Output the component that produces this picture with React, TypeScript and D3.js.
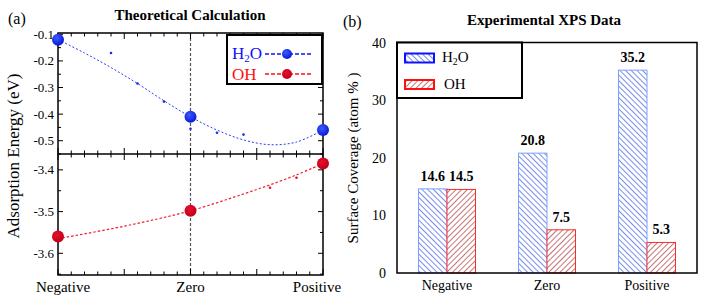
import * as d3 from 'd3';

const categories = ['Negative', 'Zero', 'Positive'];

// theoretical (a)
const h2oPoints = [-0.12, -0.41, -0.46];
const h2oSmallX = [0.4, 0.6, 0.8, 1.0, 1.2, 1.4];
const h2oSmallY = [-0.17, -0.285, -0.353, -0.455, -0.47, -0.477];
const h2oFitX = [0, 0.2, 0.4, 0.6, 0.8, 1.0, 1.2, 1.4, 1.6, 1.8, 2.0];
const h2oFitY = [-0.12, -0.17, -0.225, -0.285, -0.35, -0.41, -0.46, -0.497, -0.515, -0.505, -0.46];
const ohPoints = [-3.56, -3.498, -3.385];
const ohFitX = [0, 0.5, 1, 1.5, 1.6, 1.8, 2];
const ohFitY = [-3.565, -3.535, -3.498, -3.447, -3.436, -3.412, -3.385];
const ohSmallX = [1.6, 1.8];
const ohSmallY = [-3.443, -3.419];
const topTicks = [-0.1, -0.2, -0.3, -0.4, -0.5];
const bottomTicks = [-3.4, -3.5, -3.6];

// experimental (b)
const series = ['H2O', 'OH'];
const xpsH2O = [14.6, 20.8, 35.2];
const xpsOH = [14.5, 7.5, 5.3];
const xpsTicks = [0, 10, 20, 30, 40];

const serif = "'Liberation Serif', 'Times New Roman', 'DejaVu Serif', serif";

const x = d3.scaleLinear().domain([0, 2]).range([58, 323]);
const yTop = d3.scaleLinear().domain([-0.55, -0.095]).range([154, 33]);
const yBot = d3.scaleLinear().domain([-3.652, -3.362]).range([275, 154]);

const xb = d3.scaleBand().domain(categories).range([397, 697]).paddingInner(0.43).paddingOuter(0.215);
const xs = d3.scaleBand().domain(series).range([0, xb.bandwidth()]);
const yb = d3.scaleLinear().domain([0, 40]).range([273, 42.5]);

const H2OLabel = ({ x: tx, y: ty, size, fill }: { x: number; y: number; size: number; fill: string }) => (
  <text x={tx} y={ty} fontSize={size} fill={fill}>
    H<tspan fontSize={size * 0.65} dy={size * 0.2}>2</tspan>
    <tspan dy={-size * 0.2}>O</tspan>
  </text>
);

function LeftPanel() {
  const fitTop = d3
    .line<number>()
    .x((_, i) => x(h2oFitX[i]))
    .y((d) => yTop(d))
    .curve(d3.curveCatmullRom)(h2oFitY);
  const fitBot = d3
    .line<number>()
    .x((_, i) => x(ohFitX[i]))
    .y((d) => yBot(d))
    .curve(d3.curveCatmullRom)(ohFitY);
  const minor = d3.range(0, 2.001, 0.1);
  const [l, r] = x.range();
  const topMinor = d3.range(-0.1, -0.56, -0.05);
  const botMinor = d3.range(-3.4, -3.66, -0.05);
  return (
    <g>
      <text x={8} y={24} fontSize={16}>(a)</text>
      <text x={190} y={20} fontSize={15} fontWeight="bold" textAnchor="middle">Theoretical Calculation</text>
      <text transform="translate(19,156) rotate(-90)" fontSize={17} textAnchor="middle">Adsorption Energy (eV)</text>

      {/* zero line */}
      <line x1={x(1)} x2={x(1)} y1={33} y2={275} stroke="#555" strokeWidth={1.2} strokeDasharray="3,2" />

      {/* x ticks */}
      {minor.map((v, i) => {
        const major = i % 5 === 0;
        const len = major ? 6 : 3.5;
        return (
          <g key={i} stroke="#000" strokeWidth={1}>
            <line x1={x(v)} x2={x(v)} y1={33} y2={33 + len} />
            <line x1={x(v)} x2={x(v)} y1={154 - len} y2={154 + len} />
            <line x1={x(v)} x2={x(v)} y1={275} y2={275 - len} />
          </g>
        );
      })}
      {/* y ticks */}
      {topMinor.map((v, i) => {
        const len = i % 2 === 0 ? 5 : 3;
        return (
          <g key={'t' + i} stroke="#000">
            <line x1={l} x2={l + len} y1={yTop(v)} y2={yTop(v)} />
            <line x1={r} x2={r - len} y1={yTop(v)} y2={yTop(v)} />
          </g>
        );
      })}
      {botMinor.map((v, i) => {
        const len = i % 2 === 0 ? 5 : 3;
        return (
          <g key={'b' + i} stroke="#000">
            <line x1={l} x2={l + len} y1={yBot(v)} y2={yBot(v)} />
            <line x1={r} x2={r - len} y1={yBot(v)} y2={yBot(v)} />
          </g>
        );
      })}
      {topTicks.map((v) => (
        <text key={v} x={l - 4} y={yTop(v) + 4.5} fontSize={13} textAnchor="end">{v.toFixed(1)}</text>
      ))}
      {bottomTicks.map((v) => (
        <text key={v} x={l - 4} y={yBot(v) + 4.5} fontSize={13} textAnchor="end">{v.toFixed(1)}</text>
      ))}
      {categories.map((c, i) => (
        <text key={c} x={i === 0 ? x(i) + 5 : i === 2 ? x(i) - 6 : x(i)} y={292} fontSize={15} textAnchor="middle">{c}</text>
      ))}

      {/* frames */}
      <rect x={l} y={33} width={r - l} height={242} fill="none" stroke="#000" strokeWidth={1.5} />
      <line x1={l} x2={r} y1={154} y2={154} stroke="#000" strokeWidth={1.5} />

      {/* H2O */}
      <path d={fitTop ?? ''} fill="none" stroke="#2a3cf0" strokeWidth={1} strokeDasharray="2,2" />
      {h2oSmallX.map((v, i) => (
        <circle key={i} cx={x(v)} cy={yTop(h2oSmallY[i])} r={1.3} fill="#1a2ce0" />
      ))}
      {h2oPoints.map((v, i) => (
        <circle key={i} cx={x(i)} cy={yTop(v)} r={6} fill="url(#gBlue)" />
      ))}

      {/* OH */}
      <path d={fitBot ?? ''} fill="none" stroke="#f02030" strokeWidth={1.2} strokeDasharray="2.5,2" />
      {ohSmallX.map((v, i) => (
        <circle key={i} cx={x(v)} cy={yBot(ohSmallY[i])} r={1.3} fill="#e01020" />
      ))}
      {ohPoints.map((v, i) => (
        <circle key={i} cx={x(i)} cy={yBot(v)} r={6} fill="url(#gRed)" />
      ))}

      {/* legend */}
      <rect x={227} y={35} width={95} height={49} fill="#fff" stroke="#000" strokeWidth={2} />
      <H2OLabel x={232} y={59} size={17} fill="#1010ff" />
      <line x1={265} x2={311} y1={54} y2={54} stroke="#1010ff" strokeWidth={1.5} strokeDasharray="4,2" />
      <circle cx={287} cy={54} r={5} fill="url(#gBlue)" />
      <text x={232} y={80} fontSize={17} fill="#ff1010">OH</text>
      <line x1={265} x2={311} y1={74} y2={74} stroke="#ff1010" strokeWidth={1.5} strokeDasharray="4,2" />
      <circle cx={287} cy={74} r={5} fill="url(#gRed)" />
    </g>
  );
}

function RightPanel() {
  const [l, r] = xb.range();
  const bars = categories.flatMap((c, i) => [
    { c, s: 'H2O', v: xpsH2O[i] },
    { c, s: 'OH', v: xpsOH[i] },
  ]);
  return (
    <g>
      <text x={343} y={27} fontSize={16}>(b)</text>
      <text x={544} y={25} fontSize={15} fontWeight="bold" textAnchor="middle">Experimental XPS Data</text>
      <text transform="translate(358,158) rotate(-90)" fontSize={15} textAnchor="middle">Surface Coverage (atom % )</text>

      {xpsTicks.map((v) => (
        <text key={v} x={386} y={yb(v) + 5} fontSize={14} textAnchor="end">{v}</text>
      ))}
      {categories.map((c) => (
        <text key={c} x={(xb(c) ?? 0) + xb.bandwidth() / 2} y={290} fontSize={14} textAnchor="middle">{c}</text>
      ))}

      {bars.map((b) => {
        const bx = (xb(b.c) ?? 0) + (xs(b.s) ?? 0);
        const by = yb(b.v);
        return (
          <g key={b.c + b.s}>
            <rect
              x={bx}
              y={by}
              width={xs.bandwidth()}
              height={yb(0) - by}
              fill={b.s === 'H2O' ? 'url(#hatchBlue)' : 'url(#hatchRed)'}
              stroke={b.s === 'H2O' ? '#7aa0ff' : '#ff2a2a'}
              strokeWidth={1}
            />
            <text x={bx + xs.bandwidth() / 2} y={by - 8} fontSize={14} fontWeight="bold" textAnchor="middle">
              {b.v.toFixed(1)}
            </text>
          </g>
        );
      })}

      <rect x={l} y={42.5} width={r - l} height={yb(0) - 42.5} fill="none" stroke="#000" strokeWidth={1.5} />

      {/* legend */}
      <rect x={397} y={42.5} width={125} height={55.5} fill="#fff" stroke="#000" strokeWidth={2} />
      <rect x={405} y={53.5} width={29} height={9} fill="url(#hatchBlue)" stroke="#1010ff" strokeWidth={2} />
      <H2OLabel x={442} y={62} size={15} fill="#000" />
      <rect x={405} y={80} width={29} height={9} fill="url(#hatchRed)" stroke="#ff1010" strokeWidth={2} />
      <text x={444} y={89} fontSize={15}>OH</text>
    </g>
  );
}

export default function App() {
  return (
    <svg
      width={709}
      height={304}
      style={{ position: 'absolute', left: 0, top: 0, background: '#fff', fontFamily: serif }}
    >
      <defs>
        <radialGradient id="gBlue" cx="40%" cy="35%" r="65%">
          <stop offset="0%" stopColor="#3a5cff" />
          <stop offset="100%" stopColor="#0a18d8" />
        </radialGradient>
        <radialGradient id="gRed" cx="40%" cy="35%" r="65%">
          <stop offset="0%" stopColor="#e8102a" />
          <stop offset="100%" stopColor="#c00018" />
        </radialGradient>
        <pattern id="hatchBlue" width={4} height={4} patternUnits="userSpaceOnUse" patternTransform="rotate(-45)">
          <rect width={4} height={4} fill="#fff" />
          <line x1={0} y1={0} x2={0} y2={4} stroke="#2040e0" strokeWidth={1.2} />
        </pattern>
        <pattern id="hatchRed" width={4} height={4} patternUnits="userSpaceOnUse" patternTransform="rotate(45)">
          <rect width={4} height={4} fill="#fff" />
          <line x1={0} y1={0} x2={0} y2={4} stroke="#a01818" strokeWidth={1.2} />
        </pattern>
      </defs>
      <LeftPanel />
      <RightPanel />
    </svg>
  );
}
